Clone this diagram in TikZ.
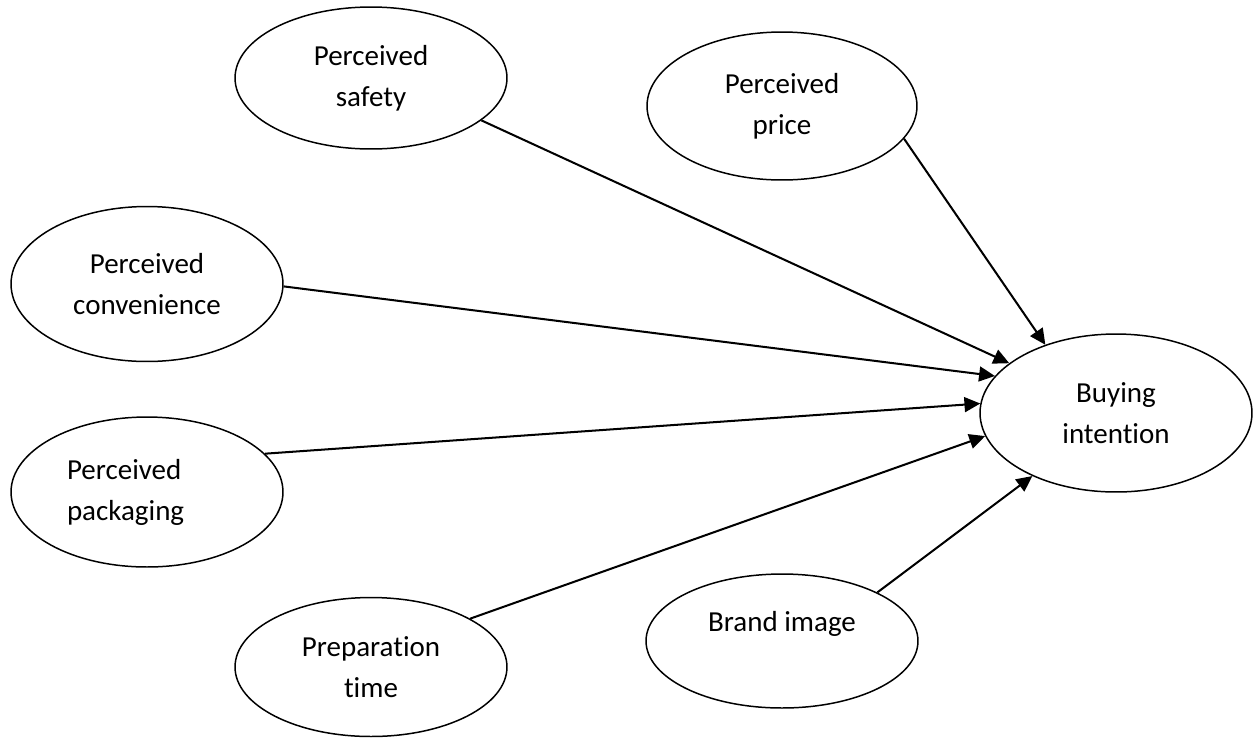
\documentclass[tikz,border=0pt]{standalone}
\usepackage{fontspec}
\setmainfont{Carlito}[Ligatures=NoCommon]
\usetikzlibrary{shapes.geometric,arrows.meta}
\begin{document}
\begin{tikzpicture}[x=0.02cm,y=-0.02cm,
    factor/.style={draw,ellipse,line width=0.85pt,inner sep=0pt,minimum width=5.44cm,
      align=center,font=\fontsize{16.5pt}{23.3pt}\selectfont},
    link/.style={-{Triangle[length=9pt,width=8.5pt]},line width=1.15pt}]
    \useasboundingbox (0,0) rectangle (1253,738);
    \node[factor,minimum height=2.84cm] (saf) at (371,78) {Perceived\\safety};
    \node[factor,minimum width=5.4cm,minimum height=2.96cm] (pri) at (782,106) {Perceived\\price};
    \node[factor,minimum height=3.1cm] (con) at (147,284) {Perceived\\convenience};
    \node[factor,minimum height=3cm,text width=3.2cm,align=left] (pac) at (147,492) {Perceived\\packaging};
    \node[factor,minimum height=2.78cm] (pre) at (371,667) {Preparation\\time};
    \node[factor,minimum height=2.68cm,text height=0pt,text depth=11pt] (bra) at (782,641) {Brand image};
    \node[factor,minimum height=3.16cm] (buy) at (1116,413) {Buying\\intention};
    % arrows into buying intention
    \draw[link] (saf.-21) -- (buy.155.6);
    \draw[link] (pri.-15) -- (buy.136.2);
    \draw[link] (con.-1) -- (buy.163.3);
    \draw[link] (pac.18) -- (buy.176.6);
    \draw[link] (pre.26.3) -- (buy.-170);
    \draw[link] (bra.27.8) -- (buy.-143.8);
\end{tikzpicture}
\end{document}
